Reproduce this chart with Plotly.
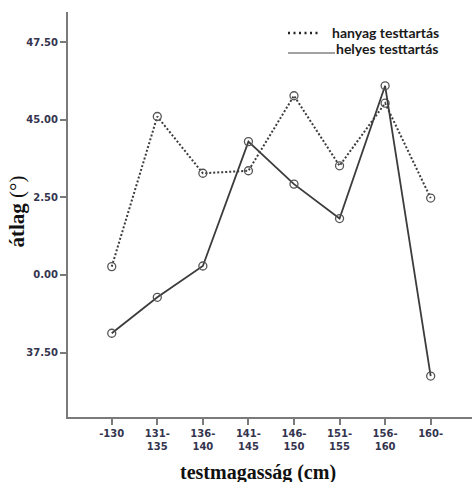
import plotly.graph_objects as go

# Height groups (cm) and mean angle per posture group
categories = ["-130", "131-<br>135", "136-<br>140", "141-<br>145",
              "146-<br>150", "151-<br>155", "156-<br>160", "160-"]
hanyag = [40.27, 45.11, 43.28, 43.36, 45.78, 43.52, 45.54, 42.48]
helyes = [38.12, 39.28, 40.29, 44.30, 42.93, 41.82, 46.10, 36.74]
y_ticks = [37.5, 40.0, 42.5, 45.0, 47.5]
y_ticklabels = ["37.50", "40.00", "42.50", "45.00", "47.50"]

line_col = "#3c3c3c"
marker_style = dict(symbol="circle-open", size=8, color="#555555",
                    line=dict(width=1.3, color="#555555"))

fig = go.Figure()
fig.add_trace(go.Scatter(
    x=categories, y=hanyag, mode="lines+markers", name="hanyag testtartás",
    line=dict(color=line_col, width=2, dash="2px,2px"),
    marker=marker_style, showlegend=False))
fig.add_trace(go.Scatter(
    x=categories, y=helyes, mode="lines+markers", name="helyes testtartás",
    line=dict(color=line_col, width=1.8),
    marker=marker_style, showlegend=False))

tick_font = dict(family="DejaVu Sans", size=10, color="#34344e",
                 weight="bold")

fig.update_xaxes(
    type="category", range=[-0.96, 7.907],
    showline=True, linecolor="#7a7a7a", linewidth=2,
    ticks="outside", ticklen=6, tickwidth=2, tickcolor="#7a7a7a",
    showgrid=False, zeroline=False, tickfont=tick_font)
fig.update_yaxes(
    range=[35.42, 48.48], tickvals=y_ticks, ticktext=y_ticklabels,
    showline=True, linecolor="#7a7a7a", linewidth=2,
    ticks="outside", ticklen=6, tickwidth=2, tickcolor="#7a7a7a",
    showgrid=False, zeroline=False, tickfont=tick_font)

annotations = [
    # y-axis title on a white box
    dict(xref="paper", yref="paper", x=-68/404, y=(417-212)/405,
         xanchor="left", yanchor="middle",
         text="<b>átlag</b> (°)", textangle=-90, showarrow=False,
         font=dict(family="Liberation Serif", size=21, color="#111111"),
         bgcolor="white", width=166, height=31, borderpad=0),
    # x-axis title
    dict(xref="paper", yref="paper", x=(258-68)/404, y=-(472-417)/405,
         xanchor="center", yanchor="middle",
         text="<b>testmagasság (cm)</b>", showarrow=False,
         font=dict(family="Liberation Serif", size=20, color="#111111")),
    # legend entries
    dict(xref="paper", yref="paper", x=(330-68)/404, y=(417-32)/405,
         xanchor="left", yanchor="middle", text="<b>hanyag testtartás</b>",
         showarrow=False, font=dict(family="Lato", size=14, color="#1a1a1a")),
    dict(xref="paper", yref="paper", x=(334-68)/404, y=(417-48.5)/405,
         xanchor="left", yanchor="middle", text="<b>helyes testtartás</b>",
         showarrow=False, font=dict(family="Lato", size=14, color="#1a1a1a")),
]

shapes = [
    dict(type="line", xref="paper", yref="paper",
         x0=(288-68)/404, x1=(321-68)/404, y0=(417-33)/405, y1=(417-33)/405,
         line=dict(color="#222222", width=2.4, dash="2px,3.5px")),
    dict(type="line", xref="paper", yref="paper",
         x0=(288-68)/404, x1=(335-68)/404, y0=(417-53)/405, y1=(417-53)/405,
         line=dict(color="#444444", width=1)),
]

fig.update_layout(
    width=472, height=482,
    margin=dict(l=68, r=0, t=12, b=65),
    paper_bgcolor="white", plot_bgcolor="white",
    annotations=annotations, shapes=shapes,
)

fig.write_html("out.html")
